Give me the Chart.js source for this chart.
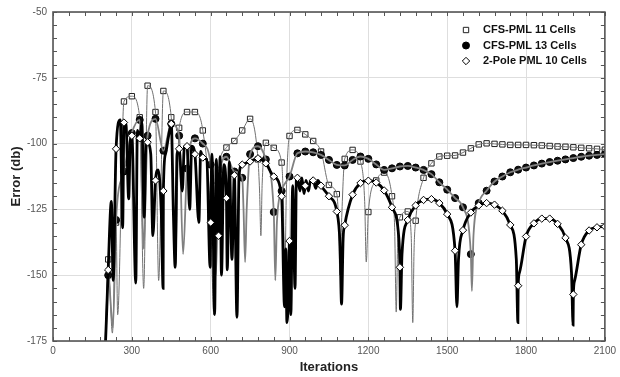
<!DOCTYPE html>
<html>
<head>
<meta charset="utf-8">
<script src="https://cdn.jsdelivr.net/npm/chart.js@4.4.1/dist/chart.umd.min.js"></script>
<style>
  html, body { margin: 0; padding: 0; background: #fff; }
  #wrap { width: 620px; height: 377px; }
</style>
</head>
<body>
<div id="wrap"><canvas id="errChart" width="620" height="377"></canvas></div>
<script>
const FONT = "'Liberation Sans', Arial, Helvetica, sans-serif";

// axis ticks
const xTicks = [0, 300, 600, 900, 1200, 1500, 1800, 2100];
const yTicks = [-175, -150, -125, -100, -75, -50];

// iterations where the markers sit
const markIter = [
  210, 240, 270, 300, 330, 360, 390, 420, 450, 480,
  510, 540, 570, 600, 630, 660, 690, 720, 750, 780,
  810, 840, 870, 900, 930, 960, 990, 1020, 1050, 1080,
  1110, 1140, 1170, 1200, 1230, 1260, 1290, 1320, 1350, 1380,
  1410, 1440, 1470, 1500, 1530, 1560, 1590, 1620, 1650, 1680,
  1710, 1740, 1770, 1800, 1830, 1860, 1890, 1920, 1950, 1980,
  2010, 2040, 2070, 2100
];

// CFS-PML 11 cells
const cfs11Marks = [
  -144, -130, -84, -82, -90, -78, -88, -80, -90, -94,
  -88, -88, -95, -128, -110, -101.5, -99, -95, -90.6, -106,
  -99.7, -101.6, -107.2, -97.1, -94.8, -96.5, -99, -103, -115.7, -119.2,
  -105.8, -102.4, -106.8, -126, -114, -111, -120, -128, -125.8, -129.3,
  -113, -107.5, -104.9, -104.6, -104.5, -103.4, -101.8, -100.3, -99.9, -100.1,
  -100.3, -100.5, -100.5, -100.5, -100.6, -100.7, -100.9, -101.1, -101.2, -101.4,
  -101.6, -101.8, -102, -102.3
];
// extra samples of the line between markers (start, dips and their flanks)
const cfs11ExtraIter = [
  200, 226, 246, 345, 402, 466, 612, 618, 786, 791,
  796, 876, 882, 888, 1086, 1092, 1098, 1186, 1192, 1300,
  1306, 1312, 1363, 1369, 1374
];
const cfs11ExtraVal = [
  -175, -172, -165, -155, -152, -146, -165, -130, -118, -135,
  -115, -120, -150, -118, -128, -150, -130, -122, -145, -132,
  -164, -135, -135, -168, -140
];

// CFS-PML 13 cells
const cfs13Marks = [
  -150, -129, -110.6, -96, -91, -97, -90.6, -102.7, -92.5, -97,
  -109.5, -98, -100, -108, -115, -105, -110.6, -113, -104, -101,
  -106, -126, -118, -112.5, -103.7, -103, -103.3, -104.3, -106.2, -108.1,
  -108.3, -106.2, -104.9, -105.8, -107.9, -110, -109.4, -108.7, -108.5, -109.1,
  -110, -111.6, -114.7, -117.5, -120.7, -124.2, -142, -122.6, -117.9, -114.4,
  -112.5, -110.9, -109.9, -109.1, -108.3, -107.6, -107, -106.5, -106, -105.5,
  -105, -104.6, -104.3, -104
];
const cfs13ExtraIter = [200, 228, 345, 495, 620, 725, 731, 737, 846, 852, 1594, 1600];
const cfs13ExtraVal = [-175, -170, -140, -142, -150, -125, -145, -125, -152, -130, -156, -135];

// 2-Pole PML 10 cells
const pole2Marks = [
  -148, -102, -92, -97, -98, -99.5, -114, -118, -92.5, -102,
  -101, -104, -105.3, -130, -135, -120.7, -112, -108, -106.8, -105.6,
  -107.5, -112.5, -120, -137, -113, -116, -114, -116, -120, -125.8,
  -131, -119.4, -115, -114.1, -114.8, -117.8, -124.2, -147, -129, -123.5,
  -121.4, -121.1, -122.6, -126.8, -140.7, -132.9, -126.2, -123.5, -122.6, -123.2,
  -125.5, -130.9, -154, -135.3, -130.3, -128.5, -128.5, -130.5, -135.8, -157.3,
  -138.4, -133, -131.8, -131.5
];
const pole2ExtraIter = [
  200, 205, 222, 229, 256, 265, 278, 288, 294, 315,
  321, 338, 347, 354, 372, 380, 400, 412, 419, 428,
  440, 458, 465, 472, 492, 500, 520, 528, 555, 562,
  585, 598, 605, 615, 621, 636, 641, 650, 663, 671,
  681, 700, 708, 881, 886, 890, 895, 905, 912, 921,
  926, 940, 947, 955, 963, 972, 980, 1000, 1008, 1092,
  1098, 1104, 1316, 1322, 1328, 1537, 1543, 1763, 1769, 1775,
  1973, 1979, 1985
];
const pole2ExtraVal = [
  -175, -162, -122, -152, -91, -132, -93, -121, -99, -153,
  -95, -92, -128, -99, -104, -135, -110, -126, -155, -104,
  -97, -126, -147, -104, -118, -101, -125, -101, -130, -103,
  -106, -147, -104, -165, -106, -105, -150, -108, -148, -107,
  -144, -166, -112, -162, -140, -168, -160, -165, -116, -155,
  -114, -118, -113, -119, -114, -118, -114, -117, -114, -138,
  -161, -136, -136, -163, -142, -162, -144, -144, -168, -149,
  -149, -169, -152
];

function markPoints(vals) {
  return markIter.map((it, i) => ({ x: it, y: vals[i] }));
}

function linePoints(vals, extraIter, extraVal) {
  const pts = markPoints(vals).concat(extraIter.map((it, i) => ({ x: it, y: extraVal[i] })));
  return pts.sort((a, b) => a.x - b.x);
}

const series = [
  {
    label: "CFS-PML 11 Cells",
    line: linePoints(cfs11Marks, cfs11ExtraIter, cfs11ExtraVal),
    marks: markPoints(cfs11Marks),
    lineColor: "#707070", lineWidth: 1,
    pointStyle: "rect", radius: 3.8, fill: "#ffffff", edge: "#222", legendFill: "#ffffff",
    lineOrder: 5, markOrder: 6,
  },
  {
    label: "CFS-PML 13 Cells",
    line: linePoints(cfs13Marks, cfs13ExtraIter, cfs13ExtraVal),
    marks: markPoints(cfs13Marks),
    lineColor: "#808080", lineWidth: 1.8,
    pointStyle: "circle", radius: 3.5, fill: "#111111", edge: "#000", legendFill: "#000000",
    lineOrder: 3, markOrder: 4,
  },
  {
    label: "2-Pole PML 10 Cells",
    line: linePoints(pole2Marks, pole2ExtraIter, pole2ExtraVal),
    marks: markPoints(pole2Marks),
    lineColor: "#000000", lineWidth: 2.8,
    pointStyle: "rectRot", radius: 3.7, fill: "#ffffff", edge: "#000", legendFill: "#ffffff",
    lineOrder: 2, markOrder: 1,
  },
];

const datasets = [];
series.forEach((s) => {
  datasets.push({
    label: s.label + " line",
    data: s.line,
    showLine: true,
    borderColor: s.lineColor,
    borderWidth: s.lineWidth,
    pointRadius: 0,
    cubicInterpolationMode: "monotone",
    order: s.lineOrder,
  });
  datasets.push({
    label: s.label,
    data: s.marks,
    showLine: false,
    pointStyle: s.pointStyle,
    pointRadius: s.radius,
    pointBackgroundColor: s.fill,
    pointBorderColor: s.edge,
    pointBorderWidth: 1,
    order: s.markOrder,
  });
});

// ticks on all four sides, pointing inward, plus frame
const frameTicks = {
  id: "frameTicks",
  afterDatasetsDraw(chart) {
    const { ctx, chartArea: a, scales: { x, y } } = chart;
    ctx.save();
    ctx.strokeStyle = "#555";
    ctx.lineWidth = 1;
    ctx.beginPath();
    for (let v = 0; v <= 2100; v += 60) {
      const px = Math.round(x.getPixelForValue(v)) + 0.5;
      ctx.moveTo(px, a.bottom); ctx.lineTo(px, a.bottom - 4);
      ctx.moveTo(px, a.top); ctx.lineTo(px, a.top + 4);
    }
    for (let v = -175; v <= -50; v += 5) {
      const py = Math.round(y.getPixelForValue(v)) + 0.5;
      ctx.moveTo(a.left, py); ctx.lineTo(a.left + 4, py);
      ctx.moveTo(a.right, py); ctx.lineTo(a.right - 4, py);
    }
    ctx.stroke();
    ctx.lineWidth = 1.6;
    ctx.strokeRect(a.left, a.top, a.right - a.left, a.bottom - a.top);
    ctx.restore();
  },
};

// legend drawn inside the plot, top right
const innerLegend = {
  id: "innerLegend",
  afterDraw(chart) {
    const { ctx } = chart;
    ctx.save();
    ctx.font = "bold 11px " + FONT;
    ctx.textBaseline = "middle";
    series.forEach((s, i) => {
      const yy = 30 + i * 15.5;
      ctx.fillStyle = s.legendFill;
      ctx.strokeStyle = s.edge;
      ctx.lineWidth = 1;
      Chart.helpers.drawPoint(ctx, { pointStyle: s.pointStyle, radius: s.radius, borderWidth: 1, rotation: 0 }, 466, yy);
      ctx.fillStyle = "#111";
      ctx.fillText(s.label, 483, yy);
    });
    ctx.restore();
  },
};

new Chart(document.getElementById("errChart"), {
  type: "scatter",
  data: { datasets },
  options: {
    responsive: false,
    animation: false,
    devicePixelRatio: 1,
    layout: { padding: { top: 10, right: 7, left: 0, bottom: 0 } },
    plugins: { legend: { display: false }, tooltip: { enabled: false } },
    scales: {
      x: {
        type: "linear",
        min: 0,
        max: 2100,
        afterBuildTicks: (s) => { s.ticks = xTicks.map((v) => ({ value: v })); },
        afterFit: (s) => { s.height = 36; },
        grid: { color: "#dedede", drawTicks: false },
        border: { display: false },
        ticks: { padding: 4, color: "#555", font: { family: FONT, size: 10 }, maxRotation: 0, callback: (v) => String(v) },
        title: { display: true, text: "Iterations", color: "#222", font: { family: FONT, size: 13, weight: "bold" }, padding: { top: 0, bottom: 2 } },
      },
      y: {
        type: "linear",
        min: -175,
        max: -50,
        afterBuildTicks: (s) => { s.ticks = yTicks.map((v) => ({ value: v })); },
        afterFit: (s) => { s.width = 53; },
        grid: { color: "#dedede", drawTicks: false },
        border: { display: false },
        ticks: { padding: 6, color: "#555", font: { family: FONT, size: 10 }, callback: (v) => String(v) },
        title: { display: true, text: "Error (db)", color: "#222", font: { family: FONT, size: 13, weight: "bold" }, padding: { top: 9, bottom: 0 } },
      },
    },
  },
  plugins: [frameTicks, innerLegend],
});
</script>
</body>
</html>
